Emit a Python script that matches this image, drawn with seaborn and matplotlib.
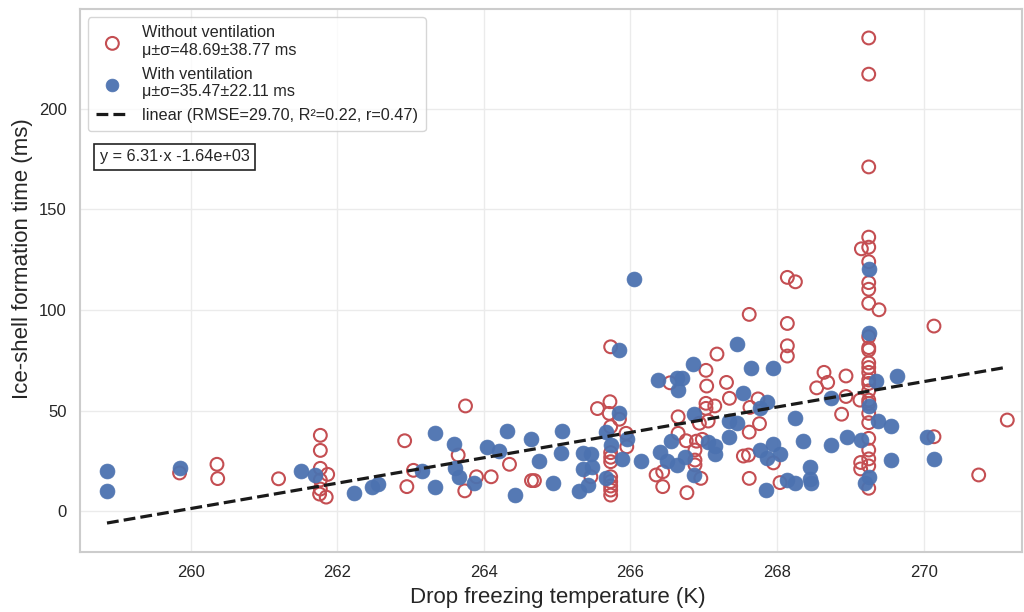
import numpy as np
import pandas as pd
import matplotlib
matplotlib.use("Agg")
import matplotlib.pyplot as plt
import seaborn as sns

# ---- data: Without ventilation (hollow red) ----
temp_without = [
    259.85, 260.36, 260.37, 261.20,
    261.77, 261.77, 261.77, 261.87, 261.77, 261.77, 261.76, 261.85,
    262.92, 262.95, 263.04, 263.75, 263.65, 263.74, 263.90, 264.10,
    264.35, 264.65, 264.69, 265.46,
    265.55, 265.72, 265.71, 265.85, 265.73, 265.94, 265.95,
    265.73, 265.73, 265.73, 265.73, 265.73, 265.73, 265.73, 265.73, 265.73,
    266.54, 267.03, 267.04, 266.65, 267.06, 266.94, 266.65, 266.76, 266.90,
    266.98, 266.88, 266.88, 266.88, 266.35, 266.44, 266.44, 266.96, 266.77,
    268.14, 268.25, 267.62, 268.14, 268.14, 268.14, 267.18, 267.31, 267.35,
    267.03, 267.15, 267.03, 267.74, 267.63, 267.76, 267.62, 267.54, 267.61,
    267.95, 267.62, 268.04,
    269.25, 269.25, 269.25, 269.25, 269.25, 269.15, 269.25, 269.25, 269.25,
    269.25, 269.39, 269.25, 269.25, 269.25, 269.25, 269.25, 269.25, 269.25,
    269.25, 269.25, 269.25, 269.25, 269.25, 269.25, 269.25, 269.25, 269.25,
    269.14, 269.25, 269.14, 269.25, 269.13,
    268.64, 268.69, 268.54, 268.94, 268.94, 268.88,
    270.14, 270.14, 270.75, 271.14,
]
time_without = [
    19.0, 23.3, 16.2, 16.1,
    37.7, 30.2, 21.3, 18.3, 15.5, 11.0, 8.5, 7.0,
    35.0, 12.2, 20.3, 52.3, 27.9, 10.1, 17.1, 17.1,
    23.3, 15.2, 15.2, 17.1,
    51.0, 54.4, 48.6, 45.7, 42.0, 38.7, 32.0,
    29.1, 26.8, 24.6, 17.1, 14.7, 12.5, 10.5, 8.0, 81.7,
    63.8, 70.0, 62.2, 46.9, 44.8, 43.7, 38.7, 35.0, 34.8,
    35.7, 30.4, 25.4, 23.0, 18.0, 19.6, 12.2, 16.3, 9.2,
    116.2, 114.0, 97.8, 93.3, 82.2, 77.1, 78.1, 64.0, 56.1,
    53.6, 52.3, 51.1, 55.8, 51.6, 43.5, 39.3, 27.4, 27.9,
    24.0, 16.3, 14.2,
    235.2, 217.2, 171.1, 136.2, 131.2, 130.4, 124.0, 113.6, 110.3,
    103.3, 100.1, 86.7, 81.3, 80.1, 73.7, 71.4, 69.0, 65.2,
    63.5, 59.8, 55.2, 53.6, 48.6, 44.0, 36.2, 30.4, 26.0,
    24.2, 22.5, 21.0, 11.4, 55.2,
    69.0, 64.0, 61.3, 67.2, 57.0, 48.2,
    92.0, 37.0, 18.0, 45.3,
]

# ---- data: With ventilation (filled blue) ----
temp_with = [
    258.86, 258.86, 259.85, 261.50, 261.70, 262.23, 262.47, 262.56, 263.15, 263.33,
    263.33, 263.59, 263.60, 263.66, 263.86, 264.05, 264.21, 264.31, 264.43, 264.65,
    264.75, 264.95, 265.06, 265.05, 265.30, 265.35, 265.46, 265.35, 265.47, 265.42,
    265.85, 265.66, 265.95, 265.73, 265.89, 266.14, 265.66, 266.05, 265.85, 266.37,
    266.63, 266.70, 266.65, 266.85, 267.45, 267.65, 267.95, 266.87, 267.54, 267.77,
    267.86, 267.35, 267.45, 268.25, 267.35, 268.35, 266.55, 266.40, 266.50, 266.63,
    266.75, 267.06, 267.15, 267.15, 266.86, 267.77, 267.86, 267.94, 268.04, 267.85,
    268.14, 268.25, 268.45, 268.45, 268.46, 268.74, 269.25, 269.25, 269.35, 269.64,
    269.25, 269.37, 269.55, 268.95, 269.15, 268.74, 269.55, 270.05, 270.14, 269.25,
    269.20,
]
time_with = [
    20.1, 10.0, 21.3, 20.1, 17.8, 9.2, 11.9, 13.5, 20.1, 38.7,
    12.2, 33.2, 21.3, 17.1, 14.2, 32.0, 30.1, 40.0, 8.0, 36.0,
    25.1, 13.9, 40.0, 29.1, 10.1, 29.1, 28.4, 21.2, 22.0, 13.2,
    49.0, 39.5, 35.9, 32.9, 26.1, 25.1, 16.3, 115.2, 80.1, 65.2,
    66.3, 66.0, 60.2, 73.1, 83.1, 71.3, 71.4, 48.5, 58.9, 51.5,
    54.4, 44.9, 44.0, 46.1, 37.0, 35.0, 35.0, 29.4, 25.1, 23.0,
    26.8, 34.3, 32.4, 28.4, 18.2, 30.6, 26.3, 33.5, 28.4, 10.5,
    15.5, 14.2, 21.8, 15.8, 14.2, 56.3, 120.2, 88.7, 64.8, 67.2,
    52.3, 45.0, 42.1, 36.8, 35.2, 32.9, 25.2, 37.0, 25.9, 17.1,
    13.9,
]

# ---- linear fit (as shown in the chart) ----
fit_slope = 6.31
fit_intercept = -1639.3

label_without = "Without ventilation\nμ±σ=48.69±38.77 ms"
label_with = "With ventilation\nμ±σ=35.47±22.11 ms"
label_fit = "linear (RMSE=29.70, R²=0.22, r=0.47)"
eq_text = "y = 6.31·x -1.64e+03"
x_label = "Drop freezing temperature (K)"
y_label = "Ice-shell formation time (ms)"
x_ticks = [260, 262, 264, 266, 268, 270]
y_ticks = [0, 50, 100, 150, 200]

sns.set_theme(style="whitegrid")
plt.rcParams["font.family"] = ["Liberation Sans", "DejaVu Sans"]
plt.rcParams["axes.edgecolor"] = "#CCCCCC"
plt.rcParams["grid.color"] = "#EBEBEB"

red = "#C44E52"
blue = "#4C72B0"

df_wo = pd.DataFrame({"T": temp_without, "t": time_without})
df_w = pd.DataFrame({"T": temp_with, "t": time_with})

fig = plt.figure(figsize=(10.24, 6.12), dpi=100)
ax = fig.add_axes([0.078, 0.098, 0.920, 0.887])

sns.scatterplot(data=df_wo, x="T", y="t", ax=ax, s=85, marker="o",
                facecolors="none", edgecolor=red, linewidth=1.5,
                label=label_without, zorder=3)
sns.scatterplot(data=df_w, x="T", y="t", ax=ax, s=115, marker="o",
                color=blue, edgecolor=blue, linewidth=0.5, alpha=0.95,
                label=label_with, zorder=4)

all_T = np.array(temp_without + temp_with)
xf = np.array([all_T.min(), all_T.max()])
ax.plot(xf, fit_slope * xf + fit_intercept, ls="--", color="#1a1a1a",
        lw=2.3, label=label_fit, zorder=5)

ax.set_xlim(258.49, 271.34)
ax.set_ylim(-20.3, 249.5)
ax.set_xticks(x_ticks)
ax.set_yticks(y_ticks)
ax.tick_params(labelsize=12)
ax.set_xlabel(x_label, fontsize=16, labelpad=5)
ax.set_ylabel(y_label, fontsize=16, labelpad=4)
ax.xaxis.label.set_x(0.5074)
ax.yaxis.label.set_y(0.541)
for sp in ax.spines.values():
    sp.set_color("#CCCCCC")
    sp.set_linewidth(1.5)

leg = ax.legend(loc="upper left", fontsize=11.7, frameon=True,
                borderpad=0.5, labelspacing=0.55, handletextpad=0.8,
                bbox_to_anchor=(0.0, 1.0))
leg.get_frame().set_edgecolor("#CCCCCC")
for h in leg.legend_handles[:2]:
    h.set_sizes([85])
leg.legend_handles[0].set_facecolor("none")
leg.legend_handles[0].set_edgecolor(red)

ax.text(0.0212, 0.742, eq_text, transform=ax.transAxes, fontsize=11.7,
        ha="left", va="top",
        bbox=dict(boxstyle="square,pad=0.35", fc="white", ec="#222222", lw=1.2),
        zorder=6)

fig.savefig("out.png", dpi=100)
